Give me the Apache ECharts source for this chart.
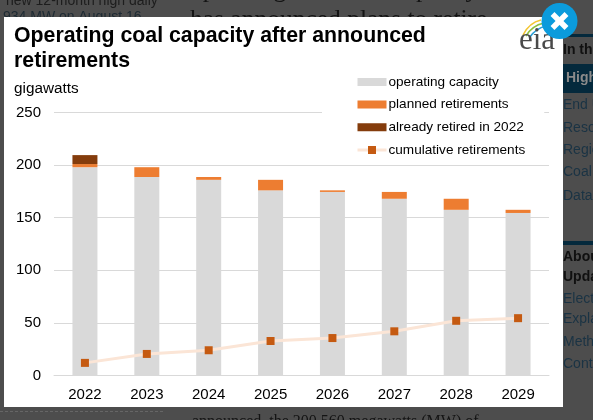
<!DOCTYPE html>
<html><head><meta charset="utf-8">
<style>html,body{margin:0;padding:0;background:#4d4d4d}#c{width:593px;height:420px}</style>
<script src="https://cdn.jsdelivr.net/npm/echarts@6/dist/echarts.min.js"></script>
</head><body><div id="c"></div>
<script>
var categories=['2022','2023','2024','2025','2026','2027','2028','2029'];
var operating=[198,188.7,186,176,174.5,168,157.5,154.5];
var planned=[3,9.3,2.7,10,1.5,6.5,10.5,3];
var retired=[8.5,null,null,null,null,null,null,null];
var cumulative=[12,20.5,24,32.8,35.6,42,52,54.5];
var titleText='Operating coal capacity after announced\nretirements';
var sideLinks=[['End Use',105],['Resources',128],['Regions',150],['Coal',172],['Data',196],['Electricity',299],['Explained',319],['Methodology',342],['Contact',364]];
var sideBold=[['In this',50,'#101010'],['Highlights',78,'#8a8a8a'],['About',257,'#101010'],['Updates',277,'#101010']];
var F='"Liberation Sans",Arial,sans-serif';
var swatch='path://M0,0L29,0L29,0ZM0,1L29,1L29,9L0,9ZM0,10L29,10L29,10Z';
function txt(t,x,y,font,fill,z){return {type:'text',z:z,silent:true,style:{text:t,x:x,y:y,font:font,fill:fill,textVerticalAlign:'middle'}};}
var bg=[
 {type:'rect',z:-10,silent:true,shape:{x:0,y:0,width:593,height:420},style:{fill:'#4d4d4d'}},
 txt('new 12-month high daily',6,1,'14px '+F,'#1d1d1d',-9),
 txt('934 MW on August 16,',3,17,'14px '+F,'#1d2a33',-9),
 txt('operating U.S. coal capacity',190,-10,'25.5px "Liberation Serif",serif','#141414',-9),
 txt('has announced plans to retire',190,20,'25.5px "Liberation Serif",serif','#141414',-9),
 txt('announced, the 200,560 megawatts (MW) of',192,421.5,'16px "Liberation Serif",serif','#141414',-9),
 {type:'line',z:-9,silent:true,shape:{x1:0,y1:411.5,x2:163,y2:411.5},style:{stroke:'#666',lineWidth:1,lineDash:[3,2]}},
 {type:'rect',z:-9,silent:true,shape:{x:563,y:34,width:30,height:3},style:{fill:'#04293c'}},
 {type:'rect',z:-9,silent:true,shape:{x:563,y:64,width:30,height:29},style:{fill:'#04293c'}},
 {type:'rect',z:-9,silent:true,shape:{x:563,y:241,width:30,height:4},style:{fill:'#04293c'}},
 {type:'rect',z:-8,silent:true,shape:{x:4,y:17,width:559,height:390},style:{fill:'#ffffff'}}
];
sideLinks.forEach(function(s){bg.push(txt(s[0],563,s[1],'14px '+F,'#1a3344',-9));});
sideBold.forEach(function(s){bg.push(txt(s[0],s[0]=='Highlights'?566:563,s[1],'bold 14px '+F,s[2],-9));});
var top_=[
 {type:'bezierCurve',z:50,silent:true,shape:{x1:523,y1:35,cpx1:527,cpy1:27,x2:541,y2:20,cpx2:532,cpy2:22},style:{stroke:'#f3c530',lineWidth:1.6,fill:'none'}},
 {type:'bezierCurve',z:50,silent:true,shape:{x1:526,y1:36,cpx1:530,cpy1:29,x2:544,y2:23,cpx2:535,cpy2:25},style:{stroke:'#8cbf3f',lineWidth:1.6,fill:'none'}},
 {type:'bezierCurve',z:50,silent:true,shape:{x1:530,y1:37,cpx1:534,cpy1:31,x2:546,y2:26,cpx2:538,cpy2:28},style:{stroke:'#2a9fd6',lineWidth:1.6,fill:'none'}},
 txt('eia',519,41,'31px "Liberation Serif",serif','#4a4a4a',50),
 {type:'circle',z:51,silent:true,shape:{cx:559.5,cy:21,r:18},style:{fill:'#0b9bdc'}},
 {type:'line',z:52,silent:true,shape:{x1:552.5,y1:14,x2:566.5,y2:28},style:{stroke:'#fff',lineWidth:5.5}},
 {type:'line',z:52,silent:true,shape:{x1:566.5,y1:14,x2:552.5,y2:28},style:{stroke:'#fff',lineWidth:5.5}}
];
var chart=echarts.init(document.getElementById('c'),null,{renderer:'canvas'});
chart.setOption({
 animation:false,
 backgroundColor:'#4d4d4d',
 textStyle:{fontFamily:F},
 title:{text:titleText,left:14,top:23,padding:0,itemGap:0,textStyle:{fontFamily:F,fontSize:21.3,fontWeight:'bold',color:'#000',lineHeight:25.5}},
 graphic:{elements:bg.concat(top_)},
 legend:{show:true,orient:'vertical',left:322,top:68.4,padding:[6,19,4,34],backgroundColor:'#fff',itemWidth:29,itemHeight:10,itemGap:7.7,
  lineStyle:{width:3},
  textStyle:{fontFamily:F,fontSize:13.6,color:'#000',padding:[0,0,0,-3],lineHeight:15},
  data:[{name:'operating capacity',icon:swatch},{name:'planned retirements',icon:swatch},{name:'already retired in 2022',icon:swatch},{name:'cumulative retirements'}]},
 grid:{left:54,right:44,top:112.5,bottom:44.5},
 xAxis:{type:'category',data:categories,axisTick:{show:false},axisLine:{lineStyle:{color:'#d9d9d9',width:1}},axisLabel:{color:'#000',fontSize:15,fontFamily:F,margin:12}},
 yAxis:{type:'value',min:0,max:250,interval:50,name:'gigawatts',nameLocation:'end',nameGap:16,nameTextStyle:{color:'#000',fontSize:15.3,fontFamily:F,align:'left',padding:[0,0,0,-40]},
  axisLine:{show:false},axisTick:{show:false},axisLabel:{color:'#000',fontSize:15,fontFamily:F,margin:13},splitLine:{lineStyle:{color:'#d9d9d9',width:1}}},
 series:[
  {name:'operating capacity',type:'bar',stack:'a',barWidth:25,data:operating,itemStyle:{color:'#d9d9d9'}},
  {name:'planned retirements',type:'bar',stack:'a',barWidth:25,data:planned,itemStyle:{color:'#ed7d31'}},
  {name:'already retired in 2022',type:'bar',stack:'a',barWidth:25,data:retired,itemStyle:{color:'#843c0c'}},
  {name:'cumulative retirements',type:'line',data:cumulative,symbol:'rect',symbolSize:8,z:5,lineStyle:{color:'#fbe5d6',width:3},itemStyle:{color:'#c55a11'}}
 ]
});
</script></body></html>
